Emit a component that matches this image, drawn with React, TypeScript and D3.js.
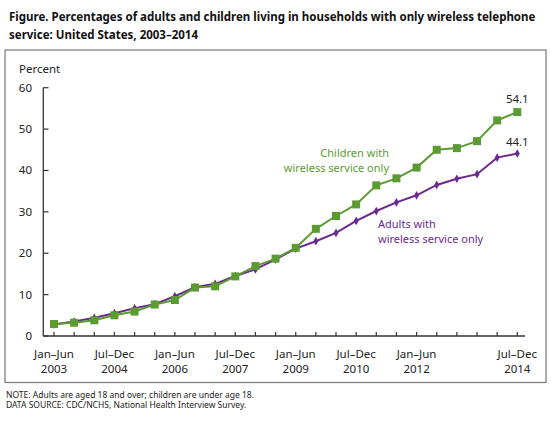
import React from "react";
import * as d3 from "d3";

const periods = [
  "2003H1","2003H2","2004H1","2004H2","2005H1","2005H2","2006H1","2006H2",
  "2007H1","2007H2","2008H1","2008H2","2009H1","2009H2","2010H1","2010H2",
  "2011H1","2011H2","2012H1","2012H2","2013H1","2013H2","2014H1","2014H2",
];
const adults = [2.8,3.5,4.4,5.5,6.7,7.7,9.6,11.8,12.6,14.5,16.1,18.5,21.1,22.9,24.9,27.8,30.2,32.3,34.0,36.5,38.0,39.1,43.1,44.1];
const children = [2.9,3.2,3.8,5.0,5.9,7.6,8.7,11.7,12.0,14.4,16.9,18.7,21.3,25.9,29.0,31.8,36.4,38.1,40.7,45.0,45.4,47.1,52.1,54.1];
const xTickLabels: [number, string, string][] = [
  [0, "Jan–Jun", "2003"],
  [3, "Jul–Dec", "2004"],
  [6, "Jan–Jun", "2006"],
  [9, "Jul–Dec", "2007"],
  [12, "Jan–Jun", "2009"],
  [15, "Jul–Dec", "2010"],
  [18, "Jan–Jun", "2012"],
  [23, "Jul–Dec", "2014"],
];
const yTicks = [0, 10, 20, 30, 40, 50, 60];

const GREEN = "#5c9b32";
const PURPLE = "#6b2a8f";
const FONT = "'Noto Sans', 'Open Sans', sans-serif";

export default function App() {
  const W = 551, H = 423;
  const x = d3.scaleLinear().domain([0, periods.length - 1]).range([54, 517.3]);
  const y = d3.scaleLinear().domain([0, 60]).range([336, 87.7]);
  const line = d3.line<number>().x((_, i) => x(i)).y((d) => y(d));
  const diamond = d3.symbol().type(d3.symbolDiamond).size(22)();

  return (
    <svg width={W} height={H} style={{ position: "absolute", left: 0, top: 0, fontFamily: FONT }}>
      <rect width={W} height={H} fill="#fff" />
      <text x={9} y={21} fontSize={11.5} fontWeight="bold" fill="#111">
        Figure. Percentages of adults and children living in households with only wireless telephone
      </text>
      <text x={9} y={38.5} fontSize={11.5} fontWeight="bold" fill="#111">
        service: United States, 2003–2014
      </text>
      <rect x={5} y={50} width={541} height={332.5} fill="none" stroke="#777" strokeWidth={1.2} />

      <text x={19} y={73} fontSize={11.5} fill="#222">Percent</text>
      {yTicks.map((t) => (
        <g key={t}>
          <line x1={43.3} x2={48.5} y1={y(t)} y2={y(t)} stroke="#333" strokeWidth={1.2} />
          <text x={32} y={y(t) + 4} textAnchor="end" fontSize={11.5} fill="#222">{t}</text>
        </g>
      ))}
      <line x1={43.3} x2={43.3} y1={y(60)} y2={y(0)} stroke="#333" strokeWidth={1.3} />
      <line x1={43.3} x2={525} y1={y(0)} y2={y(0)} stroke="#333" strokeWidth={1.3} />
      {periods.map((p, i) => (
        <line key={p} x1={x(i)} x2={x(i)} y1={y(0)} y2={y(0) - 4} stroke="#333" strokeWidth={1.2} />
      ))}
      {xTickLabels.map(([i, a, b]) => (
        <g key={i}>
          <text x={x(i)} y={357.5} textAnchor="middle" fontSize={11.5} fill="#222">{a}</text>
          <text x={x(i)} y={373} textAnchor="middle" fontSize={11.5} fill="#222">{b}</text>
        </g>
      ))}

      <path d={line(adults) || ""} fill="none" stroke={PURPLE} strokeWidth={2} />
      {adults.map((v, i) => (
        <path key={i} d={diamond} transform={`translate(${x(i)},${y(v)})`} fill={PURPLE} />
      ))}
      <path d={line(children) || ""} fill="none" stroke={GREEN} strokeWidth={2} />
      {children.map((v, i) => (
        <rect key={i} x={x(i) - 4} y={y(v) - 4} width={8} height={8} fill={GREEN} />
      ))}

      <text x={x(23)} y={103} textAnchor="middle" fontSize={11.5} fill="#222">54.1</text>
      <text x={x(23)} y={145.5} textAnchor="middle" fontSize={11.5} fill="#222">44.1</text>

      <text x={389} y={157} textAnchor="end" fontSize={11} fill={GREEN}>Children with</text>
      <text x={389} y={172} textAnchor="end" fontSize={11} fill={GREEN}>wireless service only</text>
      <text x={378} y={228} fontSize={11} fill={PURPLE}>Adults with</text>
      <text x={378} y={243} fontSize={11} fill={PURPLE}>wireless service only</text>

      <text x={6} y={397.5} fontSize={8.5} fill="#222">NOTE: Adults are aged 18 and over; children are under age 18.</text>
      <text x={6} y={408} fontSize={8.5} fill="#222">DATA SOURCE: CDC/NCHS, National Health Interview Survey.</text>
    </svg>
  );
}
